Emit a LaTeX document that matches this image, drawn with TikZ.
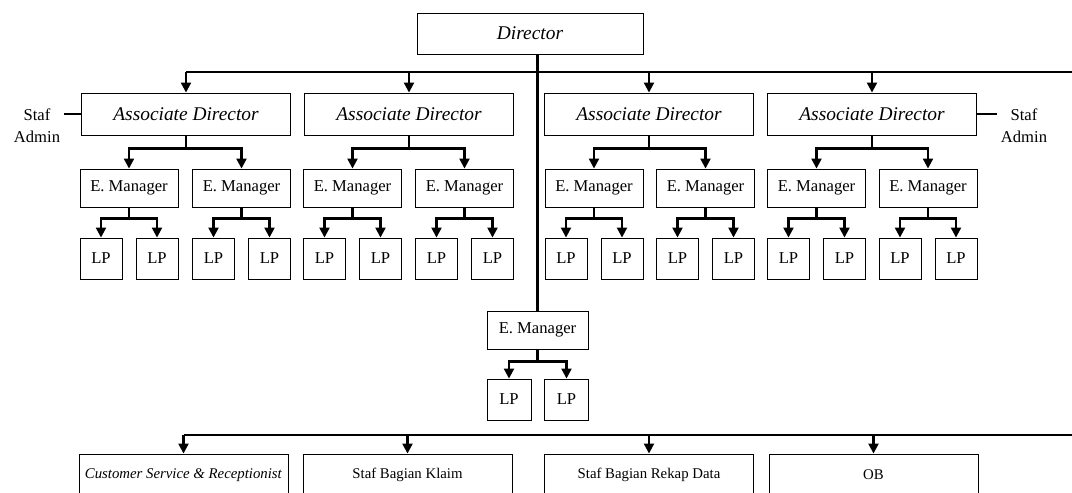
\documentclass[tikz,border=0pt]{standalone}
\usepackage{fontspec}
\setmainfont{Liberation Serif}
\usetikzlibrary{arrows.meta}

\begin{document}
\begin{tikzpicture}[x=0.5pt,y=-0.5pt,
   box/.style={draw,line width=0.45pt,inner sep=0pt,align=center},
   chief/.style={box,minimum width=113pt,minimum height=20.5pt,font=\fontsize{9.7}{11}\selectfont\itshape},
   assoc/.style={box,minimum width=104.5pt,minimum height=21pt,font=\fontsize{9.7}{11}\selectfont\itshape},
   manager/.style={box,minimum width=49pt,minimum height=19pt,font=\fontsize{8.3}{10}\selectfont},
   member/.style={box,minimum width=21pt,minimum height=20.5pt,font=\fontsize{8.3}{10}\selectfont},
   staff/.style={box,minimum width=104.5pt,minimum height=21pt,font=\fontsize{7.4}{9}\selectfont},
   side/.style={align=center,inner sep=2pt,font=\fontsize{8.3}{11}\selectfont},
   line/.style={line width=1.1pt},
   arr/.style={line,-{Triangle[width=5pt,length=5pt]}}]

   \useasboundingbox (0,0) rectangle (1072,493);
   \clip (0,0) rectangle (1072,493);

   \node (Director) at (530,33.5) [chief] {Director};

   \node (AD1) at (186,114) [assoc] {Associate Director};
   \node (AD2) at (409,114) [assoc] {Associate Director};
   \node (AD3) at (649,114) [assoc] {Associate Director};
   \node (AD4) at (872,114) [assoc] {Associate Director};

   \node (AdminL) at (37,126) [side] {Staf\\Admin};
   \node (AdminR) at (1024,126) [side] {Staf\\Admin};

   \node (EM1) at (129,188) [manager] {E. Manager};
   \node (EM2) at (241.5,188) [manager] {E. Manager};
   \node (EM3) at (352.5,188) [manager] {E. Manager};
   \node (EM4) at (464.5,188) [manager] {E. Manager};
   \node (EM5) at (594,188) [manager] {E. Manager};
   \node (EM6) at (705.5,188) [manager] {E. Manager};
   \node (EM7) at (816.5,188) [manager] {E. Manager};
   \node (EM8) at (928,188) [manager] {E. Manager};

   \node (LP1a) at (101,258.5) [member] {LP};
   \node (LP1b) at (157,258.5) [member] {LP};
   \node (LP2a) at (213.5,258.5) [member] {LP};
   \node (LP2b) at (269.5,258.5) [member] {LP};
   \node (LP3a) at (324.5,258.5) [member] {LP};
   \node (LP3b) at (380.5,258.5) [member] {LP};
   \node (LP4a) at (436.5,258.5) [member] {LP};
   \node (LP4b) at (492.5,258.5) [member] {LP};
   \node (LP5a) at (566,258.5) [member] {LP};
   \node (LP5b) at (622,258.5) [member] {LP};
   \node (LP6a) at (677.5,258.5) [member] {LP};
   \node (LP6b) at (733.5,258.5) [member] {LP};
   \node (LP7a) at (788.5,258.5) [member] {LP};
   \node (LP7b) at (844.5,258.5) [member] {LP};
   \node (LP8a) at (900,258.5) [member] {LP};
   \node (LP8b) at (956,258.5) [member] {LP};

   \node (MidEM) at (537.5,330) [manager,minimum width=50.5pt] {E. Manager};
   \node (MidLPa) at (509,399.5) [member,minimum width=22pt] {LP};
   \node (MidLPb) at (566.5,399.5) [member,minimum width=22pt] {LP};

   \node (CS) at (183.5,475) [staff] {\textit{Customer Service \& Receptionist}};
   \node (Klaim) at (407.5,475) [staff] {Staf Bagian Klaim};
   \node (Rekap) at (649,475) [staff] {Staf Bagian Rekap Data};
   \node (OB) at (873.5,475) [staff] {OB};

   \coordinate (TopBus) at (1080,72);
   \coordinate (LowBus) at (1080,435);

   % director to associate directors
   \draw [line] (Director.south -| MidEM.north) -- (MidEM.north);
   \draw [line] (AD1.north |- TopBus) -- (TopBus);
   \draw [arr] (AD1.north |- TopBus) -- (AD1.north);
   \draw [arr] (AD2.north |- TopBus) -- (AD2.north);
   \draw [arr] (AD3.north |- TopBus) -- (AD3.north);
   \draw [arr] (AD4.north |- TopBus) -- (AD4.north);

   \draw [line] (AD1.west) -- (AD1.west -| AdminL.east);
   \draw [line] (AD4.east) -- (AD4.east -| AdminR.west);

   % associate directors to managers
   \draw [arr] (AD1.south) -- ++(0,13) -| (EM1.north);
   \draw [arr] (AD1.south) -- ++(0,13) -| (EM2.north);
   \draw [arr] (AD2.south) -- ++(0,13) -| (EM3.north);
   \draw [arr] (AD2.south) -- ++(0,13) -| (EM4.north);
   \draw [arr] (AD3.south) -- ++(0,13) -| (EM5.north);
   \draw [arr] (AD3.south) -- ++(0,13) -| (EM6.north);
   \draw [arr] (AD4.south) -- ++(0,13) -| (EM7.north);
   \draw [arr] (AD4.south) -- ++(0,13) -| (EM8.north);

   % managers to LP
   \draw [arr] (EM1.south) -- ++(0,11) -| (LP1a.north);
   \draw [arr] (EM1.south) -- ++(0,11) -| (LP1b.north);
   \draw [arr] (EM2.south) -- ++(0,11) -| (LP2a.north);
   \draw [arr] (EM2.south) -- ++(0,11) -| (LP2b.north);
   \draw [arr] (EM3.south) -- ++(0,11) -| (LP3a.north);
   \draw [arr] (EM3.south) -- ++(0,11) -| (LP3b.north);
   \draw [arr] (EM4.south) -- ++(0,11) -| (LP4a.north);
   \draw [arr] (EM4.south) -- ++(0,11) -| (LP4b.north);
   \draw [arr] (EM5.south) -- ++(0,11) -| (LP5a.north);
   \draw [arr] (EM5.south) -- ++(0,11) -| (LP5b.north);
   \draw [arr] (EM6.south) -- ++(0,11) -| (LP6a.north);
   \draw [arr] (EM6.south) -- ++(0,11) -| (LP6b.north);
   \draw [arr] (EM7.south) -- ++(0,11) -| (LP7a.north);
   \draw [arr] (EM7.south) -- ++(0,11) -| (LP7b.north);
   \draw [arr] (EM8.south) -- ++(0,11) -| (LP8a.north);
   \draw [arr] (EM8.south) -- ++(0,11) -| (LP8b.north);

   \draw [arr] (MidEM.south) -- ++(0,12) -| (MidLPa.north);
   \draw [arr] (MidEM.south) -- ++(0,12) -| (MidLPb.north);

   % staff row
   \draw [line] (CS.north |- LowBus) -- (LowBus);
   \draw [arr] (CS.north |- LowBus) -- (CS.north);
   \draw [arr] (Klaim.north |- LowBus) -- (Klaim.north);
   \draw [arr] (Rekap.north |- LowBus) -- (Rekap.north);
   \draw [arr] (OB.north |- LowBus) -- (OB.north);

\end{tikzpicture}
\end{document}
